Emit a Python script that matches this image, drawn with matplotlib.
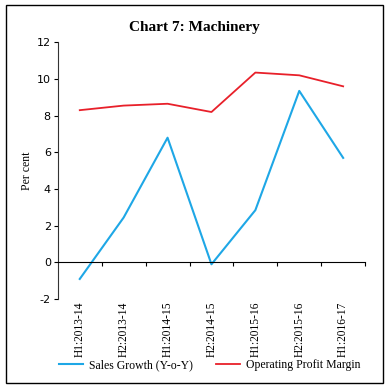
import matplotlib
matplotlib.use("Agg")
import matplotlib.pyplot as plt
from matplotlib.patches import Rectangle

periods = ["H1:2013-14", "H2:2013-14", "H1:2014-15", "H2:2014-15",
           "H1:2015-16", "H2:2015-16", "H1:2016-17"]
sales_growth = [-0.9, 2.45, 6.8, -0.1, 2.85, 9.35, 5.7]
op_margin = [8.3, 8.55, 8.65, 8.2, 10.35, 10.2, 9.6]

serif = ["Liberation Serif", "DejaVu Serif"]
plt.rcParams["axes.unicode_minus"] = False

fig = plt.figure(figsize=(3.88, 3.88), dpi=100)
ax = fig.add_axes([0.149, 0.229, 0.792, 0.662])

x = list(range(len(periods)))
ax.plot(x, sales_growth, color="#1ea7e6", lw=1.5, label="Sales Growth (Y-o-Y)")
ax.plot(x, op_margin, color="#e8202a", lw=1.3, label="Operating Profit Margin")

ax.set_xlim(-0.5, len(periods) - 0.5)
ax.set_ylim(-2, 12)
ax.set_yticks(range(-2, 13, 2))
ax.tick_params(axis="y", labelsize=8, length=3, width=0.8, pad=2)

ax.spines["top"].set_visible(False)
ax.spines["right"].set_visible(False)
ax.spines["bottom"].set_position(("data", 0))
ax.spines["left"].set_linewidth(0.8)
ax.spines["left"].set_color("#333333")

ax.set_xticks(x)
ax.set_xticklabels(periods, rotation=90, fontsize=8.3, family=serif)
ax.set_xticks([i + 0.5 for i in x], minor=True)
ax.tick_params(axis="x", which="major", length=0, pad=28)
ax.tick_params(axis="x", which="minor", length=3, width=0.8, direction="out")

ax.set_ylabel("Per cent", fontsize=8.5, family=serif, labelpad=3)

fig.text(0.5, 0.928, "Chart 7: Machinery", ha="center", va="center",
         fontsize=11, fontweight="bold", family=serif)

fig.legend(loc="center", bbox_to_anchor=(0.54, 0.058), ncol=2, frameon=False,
           prop={"family": serif, "size": 8.5}, handlelength=2.0,
           columnspacing=2.0, handletextpad=0.5)

fig.patches.append(Rectangle((0.015, 0.012), 0.972, 0.974, transform=fig.transFigure,
                             fill=False, edgecolor="black", lw=1.0))

fig.savefig("out.png", dpi=100)
